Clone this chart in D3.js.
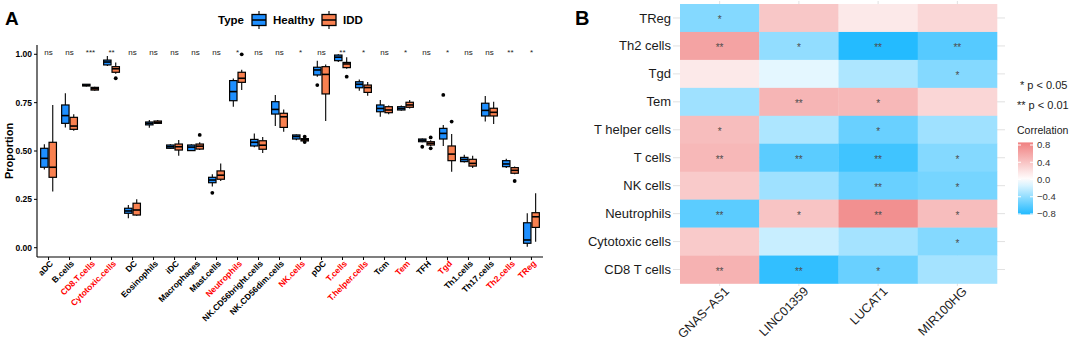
<!DOCTYPE html>
<html>
<head>
<meta charset="utf-8">
<script src="https://cdn.jsdelivr.net/npm/d3@7"></script>
<style>
  body { margin: 0; background: #fff; }
  svg { display: block; font-family: "Liberation Sans", Arial, sans-serif; }
</style>
</head>
<body>
<svg id="chart" width="1072" height="343"></svg>
<script>
// ---------- panel A data ----------
const categories = ["aDC","B.cells","CD8.T.cells","Cytotoxic.cells","DC","Eosinophils","iDC","Macrophages","Mast.cells","Neutrophils","NK.CD56bright.cells","NK.CD56dim.cells","NK.cells","pDC","T.cells","T.helper.cells","Tcm","Tem","TFH","Tgd","Th1.cells","Th17.cells","Th2.cells","TReg"];
const sigLabels = ["ns","ns","***","**","ns","ns","ns","ns","ns","*","ns","ns","*","ns","**","*","ns","*","ns","*","ns","ns","**","*"];
const redCategories = ["CD8.T.cells","Cytotoxic.cells","Neutrophils","NK.cells","T.cells","T.helper.cells","Tem","Tgd","Th2.cells","TReg"];
const groups = ["Healthy","IDD"];

// [lower whisker, q1, median, q3, upper whisker]
const healthyStats = [
  [0.405,0.416,0.462,0.514,0.535],[0.622,0.643,0.683,0.738,0.798],[0.834,0.836,0.840,0.845,0.847],
  [0.940,0.945,0.960,0.970,0.991],[0.152,0.178,0.190,0.204,0.221],[0.620,0.635,0.643,0.650,0.660],
  [0.510,0.514,0.522,0.531,0.535],[0.500,0.502,0.520,0.531,0.535],[0.316,0.336,0.350,0.364,0.380],
  [0.729,0.760,0.807,0.864,0.875],[0.520,0.526,0.545,0.560,0.590],[0.629,0.691,0.715,0.755,0.790],
  [0.555,0.562,0.575,0.583,0.585],[0.884,0.893,0.919,0.933,0.967],[0.960,0.967,0.985,0.996,1.000],
  [0.812,0.827,0.845,0.858,0.870],[0.677,0.703,0.720,0.738,0.764],[0.708,0.712,0.720,0.729,0.735],
  [0.545,0.548,0.556,0.562,0.565],[0.526,0.562,0.591,0.617,0.634],[0.440,0.445,0.456,0.467,0.480],
  [0.652,0.681,0.710,0.747,0.784],[0.412,0.419,0.433,0.450,0.460],[0.005,0.023,0.040,0.129,0.178]
];
const iddStats = [
  [0.290,0.364,0.416,0.545,0.738],[0.605,0.612,0.629,0.674,0.690],[0.812,0.815,0.822,0.829,0.832],
  [0.900,0.907,0.925,0.936,0.958],[0.165,0.169,0.195,0.230,0.250],[0.640,0.643,0.648,0.655,0.660],
  [0.476,0.505,0.522,0.536,0.557],[0.505,0.510,0.525,0.536,0.545],[0.345,0.354,0.375,0.397,0.436],
  [0.815,0.855,0.876,0.907,0.920],[0.490,0.509,0.530,0.553,0.572],[0.600,0.622,0.677,0.695,0.715],
  [0.550,0.552,0.558,0.564,0.566],[0.655,0.795,0.896,0.936,0.947],[0.925,0.931,0.950,0.958,0.985],
  [0.786,0.803,0.828,0.841,0.857],[0.690,0.698,0.712,0.729,0.735],[0.720,0.726,0.738,0.752,0.764],
  [0.525,0.531,0.540,0.548,0.555],[0.393,0.450,0.484,0.526,0.588],[0.412,0.422,0.436,0.457,0.475],
  [0.640,0.681,0.700,0.721,0.755],[0.380,0.385,0.400,0.414,0.420],[0.031,0.105,0.160,0.181,0.281]
];
const healthyOutliers = [[],[],[],[],[],[],[],[],[0.284],[],[],[],[],[0.841],[],[],[],[],[0.522],[0.790],[],[],[],[]];
const iddOutliers = [[],[],[],[0.876],[],[],[],[0.583],[],[1.0],[],[],[0.574,0.546],[],[0.884],[],[],[],[0.570,0.514],[0.652],[],[],[0.345],[]];
const yTicks = [0, 0.25, 0.5, 0.75, 1];

// ---------- panel B data ----------
const cellTypes = ["TReg","Th2 cells","Tgd","Tem","T helper cells","T cells","NK cells","Neutrophils","Cytotoxic cells","CD8 T cells"];
const genes = ["GNAS\u2212AS1","LINC01359","LUCAT1","MIR100HG"];
const corValues = [
  [-0.45, 0.38, 0.15, 0.27],
  [ 0.62,-0.40,-0.80,-0.62],
  [ 0.15,-0.10,-0.30,-0.45],
  [-0.35, 0.50, 0.48, 0.28],
  [ 0.45,-0.30,-0.55,-0.35],
  [ 0.48,-0.60,-0.70,-0.45],
  [ 0.36,-0.35,-0.55,-0.50],
  [-0.60, 0.40, 0.75, 0.45],
  [ 0.36,-0.20,-0.33,-0.45],
  [ 0.52,-0.75,-0.55,-0.33]
];
const pLabels = [
  ["*","","",""],
  ["**","*","**","**"],
  ["","","","*"],
  ["","**","*",""],
  ["*","","*",""],
  ["**","**","**","*"],
  ["","","**","*"],
  ["**","*","**","*"],
  ["","","","*"],
  ["**","**","*",""]
];
const legendTicks = [0.8, 0.4, 0, -0.4, -0.8];

const svg = d3.select("#chart");
const colors = { Healthy: "#1E8FFF", IDD: "#F98150" };

// ================= Panel A =================
const gA = svg.append("g");
const x = d3.scalePoint().domain(categories).range([37, 543]).padding(0.55);
const y = d3.scaleLinear().domain([-0.048, 1.048]).range([257, 45]);
const boxW = 8.4;

gA.append("text").attr("x", 5).attr("y", 25).attr("font-size", 19).attr("font-weight", "bold").text("A");

// axes
gA.append("line").attr("x1", 37).attr("x2", 37).attr("y1", 45).attr("y2", 257).attr("stroke", "#000").attr("stroke-width", 1.1);
gA.append("line").attr("x1", 37).attr("x2", 543).attr("y1", 257).attr("y2", 257).attr("stroke", "#000").attr("stroke-width", 1.1);
yTicks.forEach(t => {
  gA.append("line").attr("x1", 34).attr("x2", 37).attr("y1", y(t)).attr("y2", y(t)).attr("stroke", "#000");
  gA.append("text").attr("x", 32).attr("y", y(t)).attr("dy", "0.35em").attr("text-anchor", "end")
    .attr("font-size", 8.5).attr("font-weight", "bold").text(d3.format(".2f")(t));
});
gA.append("text").attr("transform", `translate(13,${y(0.5)}) rotate(-90)`).attr("text-anchor", "middle")
  .attr("font-size", 11).attr("font-weight", "bold").text("Proportion");

categories.forEach((c, i) => {
  const cx = x(c);
  gA.append("line").attr("x1", cx).attr("x2", cx).attr("y1", 257).attr("y2", 260).attr("stroke", "#000");
  gA.append("text").attr("transform", `translate(${cx + 3},${262}) rotate(-45)`)
    .attr("text-anchor", "end").attr("dy", "0.35em").attr("font-size", 8.5).attr("font-weight", "bold")
    .attr("fill", redCategories.includes(c) ? "#FF0000" : "#000").text(c);
  gA.append("text").attr("x", cx).attr("y", y(1) + 1).attr("text-anchor", "middle")
    .attr("font-size", 8).attr("fill", "#222").text(sigLabels[i]);

  [[healthyStats[i], healthyOutliers[i], "Healthy", -1], [iddStats[i], iddOutliers[i], "IDD", 1]].forEach(([s, outs, grp, side]) => {
    const bx = cx + side * boxW / 2;
    const g = gA.append("g");
    g.append("line").attr("x1", bx).attr("x2", bx).attr("y1", y(s[0])).attr("y2", y(s[1])).attr("stroke", "#000").attr("stroke-width", 1.1);
    g.append("line").attr("x1", bx).attr("x2", bx).attr("y1", y(s[3])).attr("y2", y(s[4])).attr("stroke", "#000").attr("stroke-width", 1.1);
    g.append("rect").attr("x", bx - boxW / 2 + 0.5).attr("width", boxW - 1)
      .attr("y", y(s[3])).attr("height", Math.max(0.5, y(s[1]) - y(s[3])))
      .attr("fill", colors[grp]).attr("stroke", "#000").attr("stroke-width", 1.2);
    g.append("line").attr("x1", bx - boxW / 2 + 0.5).attr("x2", bx + boxW / 2 - 0.5).attr("y1", y(s[2])).attr("y2", y(s[2]))
      .attr("stroke", "#000").attr("stroke-width", 1.6);
    outs.forEach(o => g.append("circle").attr("cx", bx).attr("cy", y(o)).attr("r", 1.9).attr("fill", "#000"));
  });
});

// legend
const lg = gA.append("g");
lg.append("text").attr("x", 218).attr("y", 24).attr("font-size", 11.5).attr("font-weight", "bold").text("Type");
[["Healthy", 252, 273], ["IDD", 322, 343]].forEach(([grp, kx, tx]) => {
  const mx = kx + 7;
  lg.append("line").attr("x1", mx).attr("x2", mx).attr("y1", 11).attr("y2", 29).attr("stroke", "#000").attr("stroke-width", 1.1);
  lg.append("rect").attr("x", kx).attr("y", 14.5).attr("width", 14).attr("height", 11)
    .attr("fill", colors[grp]).attr("stroke", "#000").attr("stroke-width", 1.3);
  lg.append("line").attr("x1", kx).attr("x2", kx + 14).attr("y1", 20).attr("y2", 20).attr("stroke", "#000").attr("stroke-width", 1.5);
  lg.append("text").attr("x", tx).attr("y", 24).attr("font-size", 11.5).attr("font-weight", "bold").text(grp);
});

// ================= Panel B =================
const gB = svg.append("g");
gB.append("text").attr("x", 575).attr("y", 25).attr("font-size", 20).attr("font-weight", "bold").text("B");

const hx = d3.scaleBand().domain(genes).range([680, 997]);
const hy = d3.scaleBand().domain(cellTypes).range([4, 283.5]);
const color = d3.scaleLinear().domain([-0.86, 0, 0.86]).range(["#14B6FF", "#FFFFFF", "#F08080"]).clamp(true);

// grid stubs outside tiles
cellTypes.forEach(r => {
  const cy = hy(r) + hy.bandwidth() / 2;
  gB.append("line").attr("x1", 673).attr("x2", 1005).attr("y1", cy).attr("y2", cy).attr("stroke", "#D9D9D9").attr("stroke-width", 0.8);
});
genes.forEach(c => {
  const cx = hx(c) + hx.bandwidth() / 2;
  gB.append("line").attr("x1", cx).attr("x2", cx).attr("y1", 1).attr("y2", 286).attr("stroke", "#D9D9D9").attr("stroke-width", 0.8);
});

cellTypes.forEach((r, i) => {
  genes.forEach((c, j) => {
    gB.append("rect").attr("x", hx(c)).attr("y", hy(r)).attr("width", hx.bandwidth() + 0.3).attr("height", hy.bandwidth() + 0.3)
      .attr("fill", color(corValues[i][j]));
    if (pLabels[i][j]) {
      gB.append("text").attr("x", hx(c) + hx.bandwidth() / 2).attr("y", hy(r) + hy.bandwidth() / 2 + 5)
        .attr("text-anchor", "middle").attr("font-size", 10).attr("fill", "#4D4D4D").text(pLabels[i][j]);
    }
  });
  gB.append("text").attr("x", 671).attr("y", hy(r) + hy.bandwidth() / 2).attr("dy", "0.35em")
    .attr("text-anchor", "end").attr("font-size", 13).attr("fill", "#1A1A1A").text(r);
});
genes.forEach(c => {
  const cx = hx(c) + hx.bandwidth() / 2;
  gB.append("text").attr("transform", `translate(${cx + 4},${286}) rotate(-45)`)
    .attr("text-anchor", "end").attr("dy", "0.7em").attr("font-size", 12.5).attr("fill", "#1A1A1A").text(c);
});

// legend
gB.append("text").attr("x", 1020).attr("y", 89).attr("font-size", 11).attr("fill", "#1A1A1A").text("* p < 0.05");
gB.append("text").attr("x", 1017).attr("y", 109).attr("font-size", 11).attr("fill", "#1A1A1A").text("** p < 0.01");
gB.append("text").attr("x", 1017).attr("y", 134).attr("font-size", 10.5).attr("fill", "#1A1A1A").text("Correlation");

const ly = d3.scaleLinear().domain([-0.8, 0.8]).range([214, 145]);
const grad = svg.append("defs").append("linearGradient").attr("id", "cbar").attr("x1", 0).attr("y1", 1).attr("x2", 0).attr("y2", 0);
d3.range(0, 1.0001, 0.1).forEach(t => {
  const v = -0.81 + t * 1.67;
  grad.append("stop").attr("offset", t).attr("stop-color", color(v));
});
gB.append("rect").attr("x", 1018).attr("y", ly(0.86)).attr("width", 15).attr("height", ly(-0.81) - ly(0.86)).attr("fill", "url(#cbar)");
legendTicks.forEach(t => {
  gB.append("line").attr("x1", 1018).attr("x2", 1021).attr("y1", ly(t)).attr("y2", ly(t)).attr("stroke", "#fff");
  gB.append("line").attr("x1", 1030).attr("x2", 1033).attr("y1", ly(t)).attr("y2", ly(t)).attr("stroke", "#fff");
  gB.append("text").attr("x", 1037).attr("y", ly(t)).attr("dy", "0.35em").attr("font-size", 9.5).attr("fill", "#333")
    .text(t === 0 ? "0.0" : d3.format(".1f")(t).replace("-", "\u2212"));
});
</script>
</body>
</html>
